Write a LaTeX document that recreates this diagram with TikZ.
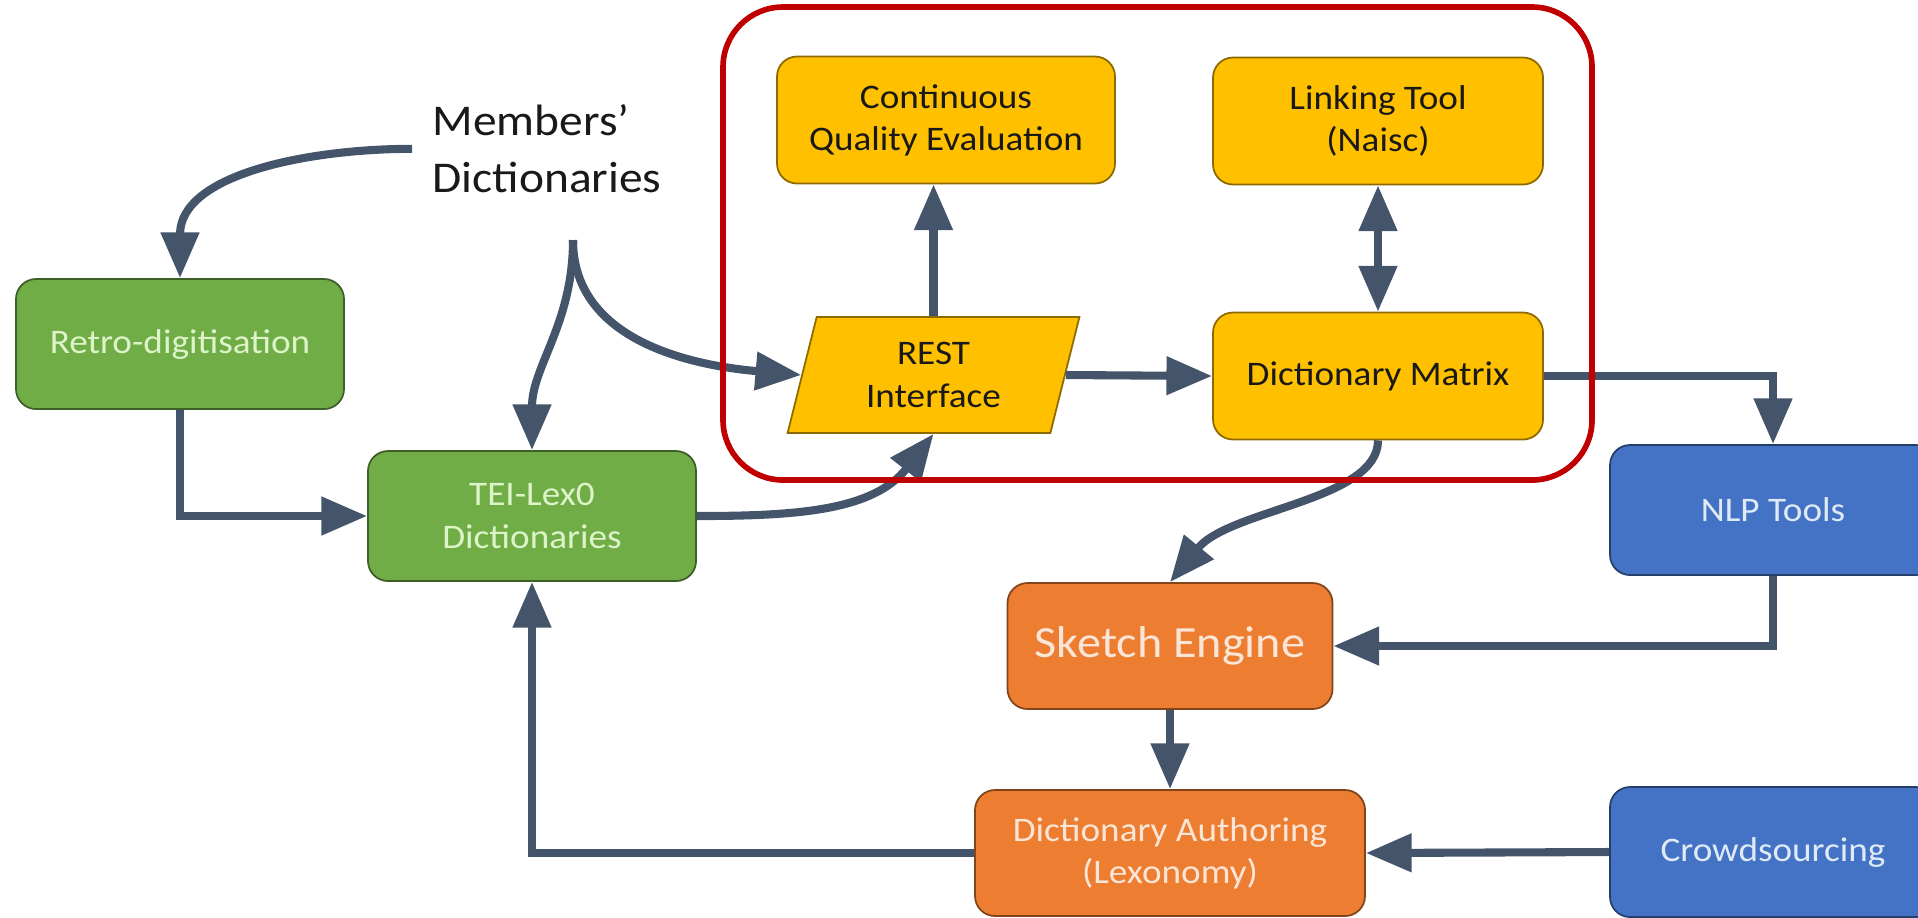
\documentclass[tikz,border=0pt]{standalone}
\usepackage{fontspec}
\setmainfont{Carlito}[FakeStretch=1.08]
\usetikzlibrary{arrows.meta,shapes.geometric}

\definecolor{boxyellow}{HTML}{FFC000}
\definecolor{boxgreen}{HTML}{70AD47}
\definecolor{boxorange}{HTML}{ED7D31}
\definecolor{boxblue}{HTML}{4472C4}
\definecolor{arrowgray}{HTML}{44546A}
\definecolor{framered}{HTML}{C00000}
\definecolor{greentext}{HTML}{DDF3C8}
\definecolor{orangetext}{HTML}{FBE5D6}
\definecolor{bluetext}{HTML}{DEEBF7}

\tikzset{
	flowtip/.tip={Triangle[length=13pt,width=10.5pt]},
	flow/.style={line width=2.3pt, draw=arrowgray, -flowtip},
	box/.style={rounded corners=0.2cm, fill=#1, draw=black!45!#1, line width=0.5pt,
		align=center, inner sep=0pt, font=\fontsize{9.8}{12}\selectfont},
	yellowbox/.style={box=boxyellow, text=black!90, minimum width=3.3cm, minimum height=1.27cm},
	greenbox/.style={box=boxgreen, text=greentext, minimum width=3.28cm, minimum height=1.3cm},
	orangebox/.style={box=boxorange, text=orangetext, minimum width=3.25cm, minimum height=1.26cm},
	bluebox/.style={box=boxblue, text=bluetext, minimum width=3.26cm, minimum height=1.3cm},
	restbox/.style={shape=trapezium, trapezium left angle=75.5, trapezium right angle=104.5,
		trapezium stretches=true, minimum width=2.93cm, minimum height=1.16cm,
		fill=boxyellow, draw=black!45!boxyellow, line width=0.5pt, text=black!90,
		align=center, inner sep=0pt, font=\fontsize{9.8}{12}\selectfont},
	membertext/.style={align=left, anchor=north west, inner sep=0pt, text=black!90,
		font=\fontsize{12.5}{16.2}\selectfont}
}

\begin{document}
\begin{tikzpicture}
	%%%%% START %%%%%
	\useasboundingbox (0,0) rectangle (19.18,-9.17);
	\clip (0,0) rectangle (19.18,-9.17);
	
	\node[membertext] (members) at (4.32,-1.04) {Members’\\Dictionaries};
	\coordinate (fork) at (5.73,-2.40);
	
	\node[greenbox] (retro) at (1.80,-3.44) {Retro-digitisation};
	\node[greenbox] (tei) at (5.32,-5.16) {TEI-Lex0\\Dictionaries};
	
	\node[yellowbox, minimum width=3.38cm] (cqe) at (9.46,-1.20) {Continuous\\Quality Evaluation};
	\node[yellowbox] (link) at (13.78,-1.21) {Linking Tool\\(Naisc)};
	\node[restbox] (rest) at (9.335,-3.75) {REST\\Interface};
	\node[yellowbox] (matrix) at (13.78,-3.76) {Dictionary Matrix};
	
	\node[bluebox] (nlp) at (17.73,-5.10) {NLP Tools};
	\node[bluebox] (crowd) at (17.73,-8.52) {Crowdsourcing};
	
	\node[orangebox, font=\fontsize{12.7}{15}\selectfont] (sketch) at (11.70,-6.46) {Sketch Engine};
	\node[orangebox, minimum width=3.9cm] (auth) at (11.70,-8.53) {Dictionary Authoring\\(Lexonomy)};
	
	% members' dictionaries feed in
	\draw[flow] ([xshift=-0.2cm]members.west) to[out=180,in=90] (retro.north);
	\draw[flow] (fork) to[out=-90,in=90] (tei.north);
	\draw[flow] (fork) to[out=-90,in=175] (rest.west);
	
	\draw[flow] (retro.south) |- (tei.west);
	\draw[flow] (tei.east) to[out=0,in=232] (rest.south);
	
	\draw[flow] (rest.east) -- (matrix.west);
	\draw[flow] (rest.north) -- (rest.north |- cqe.south);
	\draw[flow, flowtip-flowtip] (link.south) -- (matrix.north);
	
	\draw[flow] (matrix.east) -| (nlp.north);
	\draw[flow] (matrix.south) .. controls +(0,-0.6) and +(0.6,0.73) .. (sketch.north);
	\draw[flow] (nlp.south) |- (sketch.east);
	\draw[flow] (sketch.south) -- (auth.north);
	\draw[flow] (crowd.west) -- (auth.east);
	\draw[flow] (auth.west) -| (tei.south);
	
	\draw[framered, line width=1.6pt, rounded corners=0.6cm] (7.23,-0.07) rectangle (15.92,-4.80);
	
	%%%%% END %%%%%
\end{tikzpicture}
\end{document}
